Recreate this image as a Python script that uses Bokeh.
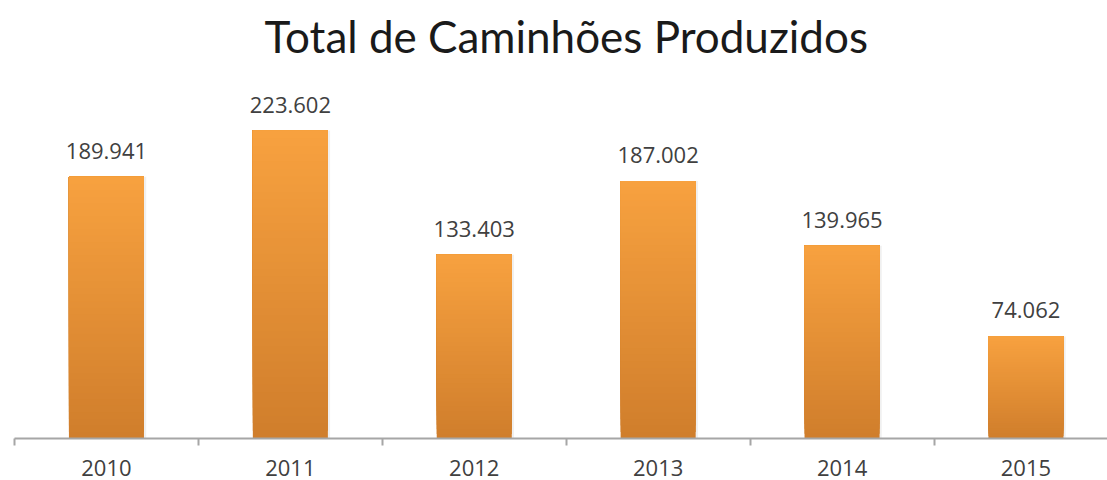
from bokeh.plotting import figure
from bokeh.models import Range1d, FixedTicker
from bokeh.core.properties import value
from bokeh.embed import file_html
from bokeh.resources import INLINE

years = ["2010", "2011", "2012", "2013", "2014", "2015"]
trucks = [189941, 223602, 133403, 187002, 139965, 74062]
title_text = "Total de Caminhões Produzidos"

W, H = 1107, 480
left_border, top_border, bottom_border = 14, 8, 42
frame_w = W - left_border
frame_h = H - bottom_border - top_border
cat_px = 183.9
px_per_unit = 308.0 / 223602  # pixel scale of the bars

p = figure(width=W, height=H, output_backend="svg", toolbar_location=None,
           x_range=Range1d(0, frame_w / cat_px),
           y_range=Range1d(0, frame_h / px_per_unit),
           y_axis_location=None, min_border_left=left_border, min_border_right=0,
           min_border_top=top_border, min_border_bottom=bottom_border)
p.outline_line_color = None
p.xgrid.visible = False
p.ygrid.visible = False
p.background_fill_color = "white"
p.border_fill_color = "white"

centers = [i + 0.5 for i in range(len(years))]

# gradient bars: overlapping slices from dark (bottom) to light (top)
bottom_rgb = (0xD0, 0x7E, 0x2C)
top_rgb = (0xF7, 0xA1, 0x3F)
N = 40
bw = 0.408
for c, v in zip(centers, trucks):
    # soft shadow
    p.quad(left=c - bw / 2 + 0.006, right=c + bw / 2 + 0.012, bottom=0, top=v,
           fill_color="#808080", fill_alpha=0.12, line_color=None)
    lefts, rights, bots, tops, cols = [], [], [], [], []
    for k in range(N):
        t = k / (N - 1)
        col = tuple(int(round(b + (tt - b) * t)) for b, tt in zip(bottom_rgb, top_rgb))
        lefts.append(c - bw / 2)
        rights.append(c + bw / 2)
        bots.append(v * k / N)
        tops.append(v)
        cols.append("#%02x%02x%02x" % col)
    p.quad(left=lefts, right=rights, bottom=bots, top=tops, fill_color=cols,
           line_color=None)

labels = [f"{v:,}".replace(",", ".") for v in trucks]
p.text(x=centers, y=trucks, text=labels, text_align="center",
       text_baseline="alphabetic", y_offset=-26,
       text_font=value("Open Sans"), text_font_size="22px", text_color="#404040")

# title
p.text(x=[len(years) / 2], y=[p.y_range.end], text=[title_text], text_align="center",
       text_baseline="alphabetic", y_offset=27,
       text_font=value("Lato"), text_font_size="44px", text_color="#1a1a1a")

ax = p.xaxis[0]
ax.ticker = FixedTicker(ticks=centers, minor_ticks=list(range(len(years) + 1)))
ax.major_label_overrides = {c: y for c, y in zip(centers, years)}
ax.major_tick_out = 0
ax.major_tick_in = 0
ax.minor_tick_out = 7
ax.minor_tick_in = 0
ax.minor_tick_line_color = "#A6A6A6"
ax.minor_tick_line_width = 2
ax.axis_line_color = "#A6A6A6"
ax.axis_line_width = 2
ax.major_label_text_font = "Open Sans"
ax.major_label_text_font_size = "22px"
ax.major_label_text_color = "#404040"
ax.major_label_standoff = 14

open("out.html", "w").write(file_html(p, INLINE))
